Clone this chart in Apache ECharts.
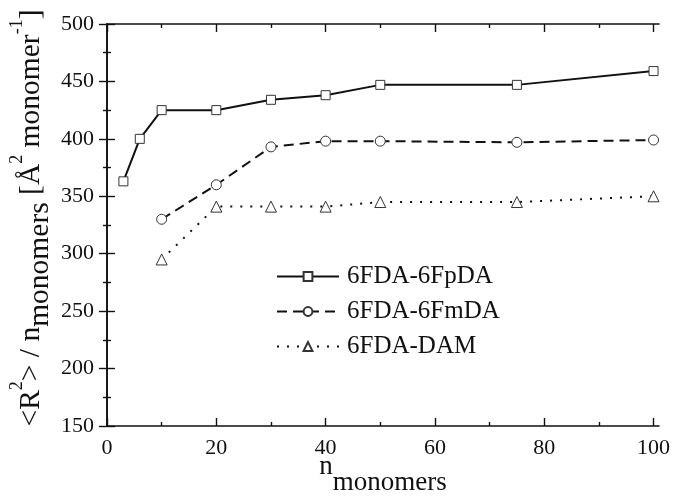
<!DOCTYPE html>
<html>
<head>
<meta charset="utf-8">
<script src="https://cdn.jsdelivr.net/npm/echarts@6/dist/echarts.min.js"></script>
<style>html,body{margin:0;padding:0;background:#fff}#c{width:673px;height:500px}</style>
</head>
<body>
<div id="c"></div>
<script>
const seriesNames = ['6FDA-6FpDA', '6FDA-6FmDA', '6FDA-DAM'];
const xFpDA = [3, 6, 10, 20, 30, 40, 50, 75, 100];
const yFpDA = [363, 400, 425, 425, 434, 438, 447, 447, 459];
const xFmDA = [10, 20, 30, 40, 50, 75, 100];
const yFmDA = [330, 360, 393, 398, 398, 397, 399];
const xDAM = [10, 20, 30, 40, 50, 75, 100];
const yDAM = [295, 341, 341, 341, 345, 345, 350];
const xMajorTicks = [0, 20, 40, 60, 80, 100];
const xMinorTicks = [10, 30, 50, 70, 90];

const FONT = "'Liberation Serif', 'Times New Roman', Times, serif";
const INK = '#111';
const pair = (xs, ys) => xs.map((x, i) => [x, ys[i]]);

const axisLineStyle = {show: true, lineStyle: {color: INK, width: 1.6}};
function xAxisDef(pos, ticks, len, showLine, showLabel) {
  return {
    type: 'value', position: pos, min: 0, max: 101,
    axisLine: showLine ? axisLineStyle : {show: false},
    axisTick: {show: true, inside: true, length: len, customValues: ticks, lineStyle: {color: INK, width: 1.4}},
    axisLabel: showLabel ? {show: true, customValues: ticks, margin: 11, fontFamily: FONT, fontSize: 22, color: INK} : {show: false},
    splitLine: {show: false}
  };
}
function yAxisDef(pos, showLabel) {
  return {
    type: 'value', position: pos, min: 150, max: 500, interval: 50,
    axisLine: axisLineStyle,
    axisTick: {show: true, inside: true, length: 8, lineStyle: {color: INK, width: 1.4}},
    minorTick: {show: true, splitNumber: 2, length: 4, lineStyle: {color: INK, width: 1.4}},
    axisLabel: showLabel ? {show: true, margin: 13, fontFamily: FONT, fontSize: 22, color: INK} : {show: false},
    splitLine: {show: false}, minorSplitLine: {show: false}
  };
}

const xMain = xAxisDef('bottom', xMajorTicks, 8, true, true);
xMain.name = '{m|n}{sub|monomers}';
xMain.nameLocation = 'middle';
xMain.nameGap = 27;
xMain.nameMoveOverlap = false;
xMain.nameTextStyle = {
  fontFamily: FONT, color: INK,
  rich: {
    m: {fontFamily: FONT, fontSize: 27, lineHeight: 27, color: INK, verticalAlign: 'top', padding: [0, 0, 0, 0]},
    sub: {fontFamily: FONT, fontSize: 27, lineHeight: 27, color: INK, verticalAlign: 'top', padding: [16, 0, 0, 0]}
  }
};

const yMain = yAxisDef('left', true);
yMain.name = '{m0|<R}{sup|2}{m|> / n}{sub|monomers}{m| [Å}{sup|2}{m| monomer}{sup|-1}{m|]}';
yMain.nameLocation = 'middle';
yMain.nameRotate = 90;
yMain.nameGap = 69;
yMain.nameMoveOverlap = false;
yMain.nameTextStyle = {
  fontFamily: FONT, color: INK,
  rich: {
    m0: {fontFamily: FONT, fontSize: 29.5, lineHeight: 29.5, color: INK, verticalAlign: 'top', padding: [8, 0, 0, 14]},
    m: {fontFamily: FONT, fontSize: 29.5, lineHeight: 29.5, color: INK, verticalAlign: 'top', padding: [8, 0, 0, 0]},
    sup: {fontFamily: FONT, fontSize: 18, lineHeight: 18, color: INK, verticalAlign: 'top', padding: [0, 0, 0, 0]},
    sub: {fontFamily: FONT, fontSize: 29.5, lineHeight: 29.5, color: INK, verticalAlign: 'top', padding: [17, 0, 0, 0]}
  }
};

function lineSeries(name, data, symbol, size, lineType) {
  return {
    name, type: 'line', xAxisIndex: 0, yAxisIndex: 0, data,
    symbol, symbolSize: size, showAllSymbol: true,
    lineStyle: {color: INK, width: 2, type: lineType},
    itemStyle: {color: '#fff', borderColor: '#333', borderWidth: 1},
    emphasis: {disabled: true}, animation: false
  };
}

const chart = echarts.init(document.getElementById('c'), null, {renderer: 'canvas'});
chart.setOption({
  backgroundColor: '#fff',
  animation: false,
  grid: {left: 107, top: 24, width: 552, height: 402, containLabel: false, outerBoundsMode: 'none'},
  xAxis: [
    xMain,
    xAxisDef('bottom', xMinorTicks, 4, false, false),
    xAxisDef('top', xMajorTicks, 8, true, false),
    xAxisDef('top', xMinorTicks, 4, false, false)
  ],
  yAxis: [yMain, yAxisDef('right', false)],
  legend: {
    data: seriesNames,
    orient: 'vertical', left: 276, top: 264, padding: 0,
    itemWidth: 62, itemHeight: 11, itemGap: 10,
    textStyle: {fontFamily: FONT, fontSize: 25, color: INK, lineHeight: 25, padding: [0, 0, 0, 3]},
    selectedMode: false
  },
  series: [
    lineSeries(seriesNames[0], pair(xFpDA, yFpDA), 'rect', 9, 'solid'),
    lineSeries(seriesNames[1], pair(xFmDA, yFmDA), 'circle', 10, [10, 6]),
    lineSeries(seriesNames[2], pair(xDAM, yDAM), 'triangle', 11, [2, 8])
  ]
});
</script>
</body>
</html>
